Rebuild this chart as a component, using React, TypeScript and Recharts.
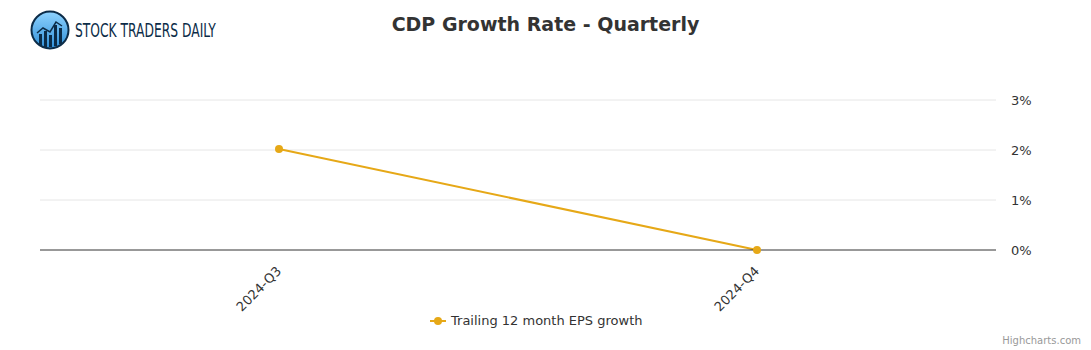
import { LineChart, Line, XAxis, YAxis, CartesianGrid } from 'recharts';

const quarters = ['2024-Q3', '2024-Q4'];
const epsGrowth = [2.02, 0];
const yTicks = [0, 1, 2, 3];

const LINE_COLOR = '#e6a817';
const FONT = '"DejaVu Sans", Verdana, Arial, sans-serif';

const chartData = quarters.map((q, i) => ({ quarter: q, eps: epsGrowth[i] }));

const QuarterTick = ({ x, y, payload }: { x?: number; y?: number; payload?: { value: string } }) => (
  <text
    x={(x ?? 0) + 3}
    y={(y ?? 0) + 14}
    transform={`rotate(-45 ${(x ?? 0) + 3} ${(y ?? 0) + 14})`}
    textAnchor="end"
    fill="#333"
    fontSize={13}
    fontFamily={FONT}
  >
    {payload?.value}
  </text>
);

function Logo() {
  return (
    <div style={{ position: 'absolute', left: 30, top: 10, display: 'flex', alignItems: 'center' }}>
      <svg width={40} height={40} viewBox="0 0 40 40">
        <defs>
          <linearGradient id="lg" x1="0" y1="0" x2="0" y2="1">
            <stop offset="0%" stopColor="#8fd3ff" />
            <stop offset="100%" stopColor="#2f8fd8" />
          </linearGradient>
        </defs>
        <circle cx={20} cy={20} r={18.5} fill="url(#lg)" stroke="#0c2c48" strokeWidth={2} />
        <rect x={9} y={24} width={3} height={12} fill="#0c2c48" />
        <rect x={14} y={21} width={3} height={16} fill="#0c2c48" />
        <rect x={19} y={25} width={3} height={12} fill="#0c2c48" />
        <rect x={24} y={15} width={3} height={21} fill="#0c2c48" />
        <rect x={29} y={18} width={3} height={16} fill="#0c2c48" />
        <polyline points="7,23 13,18 20,22 26,12 32,16" fill="none" stroke="#0c2c48" strokeWidth={1.5} />
      </svg>
      <span
        style={{
          marginLeft: 5,
          fontFamily: '"Liberation Sans Narrow", "DejaVu Sans Condensed", sans-serif',
          fontSize: 19,
          color: '#0c2c48',
          transform: 'scaleX(0.72)',
          transformOrigin: 'left center',
          whiteSpace: 'nowrap',
        }}
      >
        STOCK TRADERS DAILY
      </span>
    </div>
  );
}

export default function App() {
  return (
    <div style={{ position: 'absolute', left: 0, top: 0, width: 1091, height: 350, background: '#fff', fontFamily: FONT }}>
      <Logo />
      <div
        style={{
          position: 'absolute',
          left: 0,
          top: 13,
          width: 1091,
          textAlign: 'center',
          fontSize: 19,
          fontWeight: 'bold',
          color: '#333',
        }}
      >
        CDP Growth Rate - Quarterly
      </div>
      <LineChart width={1091} height={350} data={chartData} margin={{ top: 100, right: 35, bottom: 40, left: 40 }}>
        <CartesianGrid vertical={false} stroke="#e6e6e6" horizontalValues={[1, 2, 3]} />
        <XAxis
          dataKey="quarter"
          padding={{ left: 239, right: 239 }}
          axisLine={{ stroke: '#333' }}
          tickLine={false}
          height={60}
          tick={<QuarterTick />}
          interval={0}
        />
        <YAxis
          orientation="right"
          domain={[0, 3]}
          ticks={yTicks}
          width={60}
          axisLine={false}
          tickLine={false}
          tickMargin={9}
          tickFormatter={(v: number) => `${v}%`}
          tick={{ fill: '#333', fontSize: 13, fontFamily: FONT }}
        />
        <Line
          dataKey="eps"
          stroke={LINE_COLOR}
          strokeWidth={2}
          dot={{ r: 4, fill: LINE_COLOR, stroke: LINE_COLOR, strokeWidth: 0 }}
          isAnimationActive={false}
        />
      </LineChart>
      <div
        style={{
          position: 'absolute',
          left: 430,
          top: 313,
          display: 'flex',
          alignItems: 'center',
          fontSize: 13,
          color: '#333',
        }}
      >
        <svg width={16} height={12}>
          <line x1={0} y1={6} x2={16} y2={6} stroke={LINE_COLOR} strokeWidth={2} />
          <circle cx={8} cy={6} r={4} fill={LINE_COLOR} />
        </svg>
        <span style={{ marginLeft: 5 }}>Trailing 12 month EPS growth</span>
      </div>
      <div style={{ position: 'absolute', right: 10, top: 335, fontSize: 10, color: '#999' }}>Highcharts.com</div>
    </div>
  );
}
